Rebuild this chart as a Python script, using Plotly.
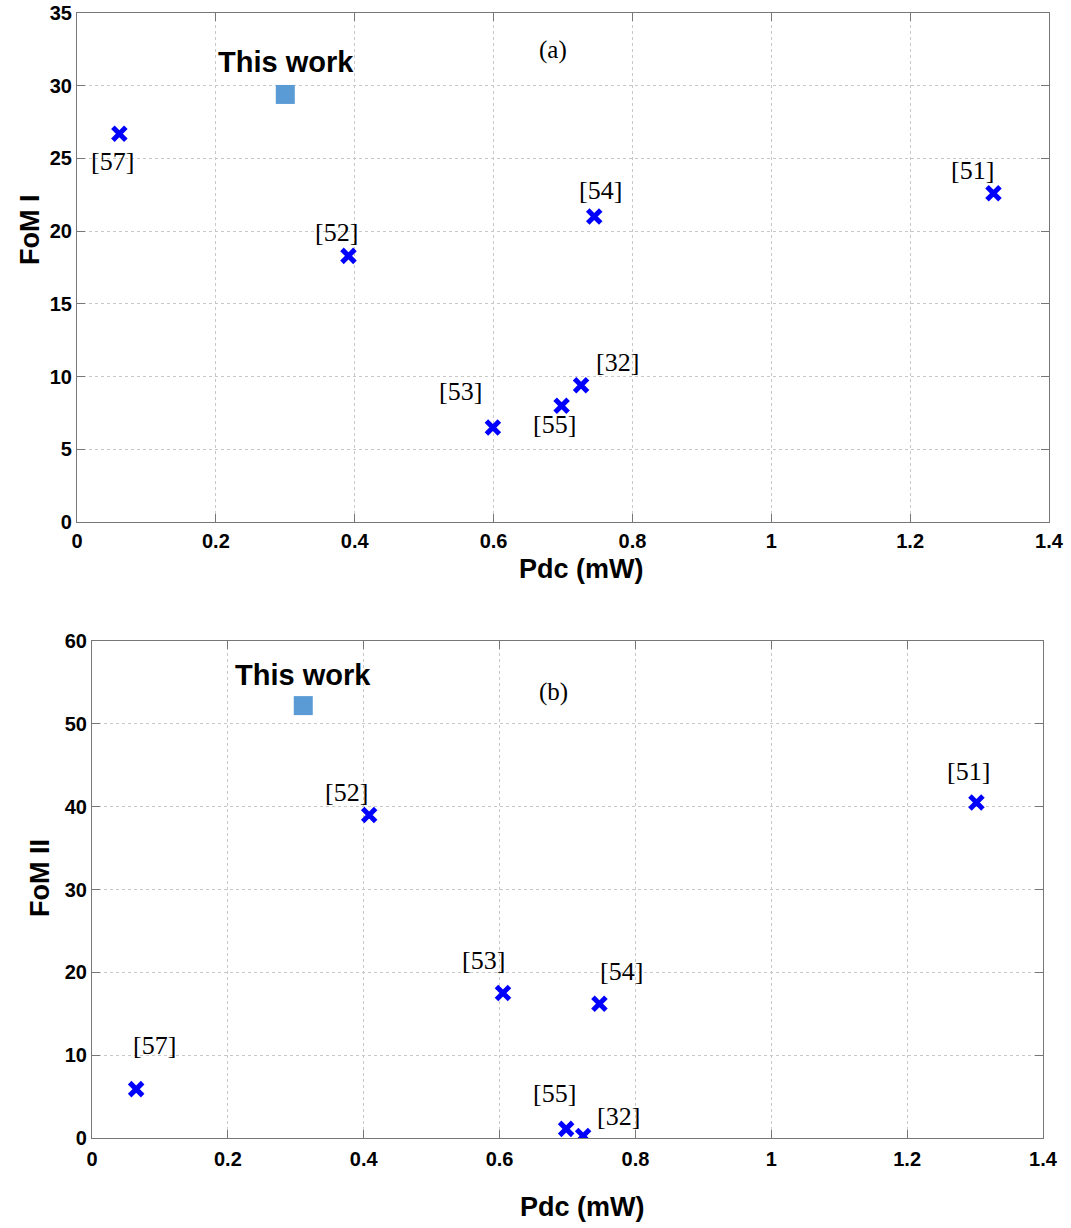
import plotly.graph_objects as go

# Panel (a)
refs_a = ["[57]", "[52]", "[54]", "[51]", "[32]", "[55]", "[53]"]
pdc_a = [0.061, 0.391, 0.745, 1.320, 0.726, 0.698, 0.599]
fom1 = [26.7, 18.3, 21.0, 22.6, 9.4, 8.0, 6.5]
this_pdc_a = [0.30]
this_fom1 = [29.4]

# Panel (b)
refs_b = ["[52]", "[51]", "[53]", "[54]", "[57]", "[55]", "[32]"]
pdc_b = [0.408, 1.302, 0.605, 0.747, 0.065, 0.698, 0.723]
fom2 = [39.0, 40.5, 17.5, 16.2, 5.9, 1.1, 0.25]
this_pdc_b = [0.311]
this_fom2 = [52.2]

xticks = [0, 0.2, 0.4, 0.6, 0.8, 1, 1.2, 1.4]
xtick_text = ["0", "0.2", "0.4", "0.6", "0.8", "1", "1.2", "1.4"]
yticks_a = [0, 5, 10, 15, 20, 25, 30, 35]
yticks_b = [0, 10, 20, 30, 40, 50, 60]

# label pixel offsets (dx right, dy up)
off_a = {"[57]": (-7, -28), "[52]": (-12, 23), "[54]": (6, 26), "[51]": (-21, 23),
         "[32]": (36, 23), "[55]": (-7, -19), "[53]": (-32, 36)}
off_b = {"[52]": (-23, 22), "[51]": (-8, 31), "[53]": (-19, 33), "[54]": (22, 32),
         "[57]": (18, 44), "[55]": (-12, 35), "[32]": (35, 19)}

W, H = 1071, 1228


def px(x):
    return x / W


def py(y):
    return 1 - y / H


fig = go.Figure()

xmark = dict(symbol="x-thin", size=13, color="#0000ff", line=dict(width=5, color="#0000ff"))
sqmark = dict(symbol="square", size=19, color="#5b9bd5", line=dict(width=0))

fig.add_trace(go.Scatter(x=pdc_a, y=fom1, mode="markers", marker=xmark, xaxis="x", yaxis="y", showlegend=False))
fig.add_trace(go.Scatter(x=this_pdc_a, y=this_fom1, mode="markers", marker=sqmark, xaxis="x", yaxis="y", showlegend=False))
fig.add_trace(go.Scatter(x=pdc_b, y=fom2, mode="markers", marker=xmark, xaxis="x2", yaxis="y2", showlegend=False))
fig.add_trace(go.Scatter(x=this_pdc_b, y=this_fom2, mode="markers", marker=sqmark, xaxis="x2", yaxis="y2", showlegend=False))

serif = dict(family="Liberation Serif", size=26, color="black")
sans_b = dict(family="Liberation Sans", size=29, color="black")
title_font = dict(family="Liberation Sans", size=27, color="black")
C = dict(xanchor="center", yanchor="middle", showarrow=False)

ann = []
for r, x, y in zip(refs_a, pdc_a, fom1):
    dx, dy = off_a[r]
    ann.append(dict(x=x, y=y, xref="x", yref="y", text=r, font=serif, xshift=dx, yshift=dy, **C))
for r, x, y in zip(refs_b, pdc_b, fom2):
    dx, dy = off_b[r]
    ann.append(dict(x=x, y=y, xref="x2", yref="y2", text=r, font=serif, xshift=dx, yshift=dy, **C))
ann.append(dict(x=this_pdc_a[0], y=this_fom1[0], xref="x", yref="y", text="<b>This work</b>", font=sans_b, xshift=1, yshift=32, **C))
ann.append(dict(x=this_pdc_b[0], y=this_fom2[0], xref="x2", yref="y2", text="<b>This work</b>", font=sans_b, xshift=0, yshift=31, **C))
ann.append(dict(x=(553 - 77) / (1049 - 77), y=1 - (50 - 13) / (522 - 13), xref="x domain", yref="y domain", text="(a)", font=dict(family="Liberation Serif", size=25, color="black"), **C))
ann.append(dict(x=(553 - 92) / (1043 - 92), y=1 - (692 - 641) / (1138 - 641), xref="x2 domain", yref="y2 domain", text="(b)", font=dict(family="Liberation Serif", size=25, color="black"), **C))
# axis titles
ann.append(dict(x=px(30), y=py(230), xref="paper", yref="paper", text="<b>FoM I</b>", textangle=-90, font=title_font, **C))
ann.append(dict(x=px(40), y=py(878), xref="paper", yref="paper", text="<b>FoM II</b>", textangle=-90, font=title_font, **C))
ann.append(dict(x=px(581), y=py(569), xref="paper", yref="paper", text="<b>Pdc (mW)</b>", font=title_font, **C))
ann.append(dict(x=px(582), y=py(1207), xref="paper", yref="paper", text="<b>Pdc (mW)</b>", font=title_font, **C))

axcommon = dict(showline=True, linecolor="#777777", linewidth=1.2, mirror="ticks", ticks="inside",
                ticklen=8, tickcolor="#777777", showgrid=True, gridcolor="#c8c8c8", griddash="dot",
                gridwidth=1, zeroline=False, automargin=False,
                tickfont=dict(family="Liberation Sans", size=20, color="black"))

fig.update_layout(
    width=W, height=H, margin=dict(l=0, r=0, t=0, b=0),
    plot_bgcolor="white", paper_bgcolor="white",
    xaxis=dict(domain=[px(77), px(1049)], range=[0, 1.4], tickvals=xticks, ticklabelstandoff=1,
               ticktext=["<b>%s</b>" % t for t in xtick_text], anchor="y", **axcommon),
    yaxis=dict(domain=[py(522), py(13)], range=[0, 35], tickvals=yticks_a,
               ticktext=["<b>%d</b>" % v for v in yticks_a], anchor="x", **axcommon),
    xaxis2=dict(domain=[px(92), px(1043)], range=[0, 1.4], tickvals=xticks, ticklabelstandoff=3,
                ticktext=["<b>%s</b>" % t for t in xtick_text], anchor="y2", **axcommon),
    yaxis2=dict(domain=[py(1138), py(641)], range=[0, 60], tickvals=yticks_b,
                ticktext=["<b>%d</b>" % v for v in yticks_b], anchor="x2", **axcommon),
    annotations=ann,
)
fig.write_html("out.html", config={"displayModeBar": False},
               post_script="document.body.style.margin='0';document.body.style.overflow='hidden';")
